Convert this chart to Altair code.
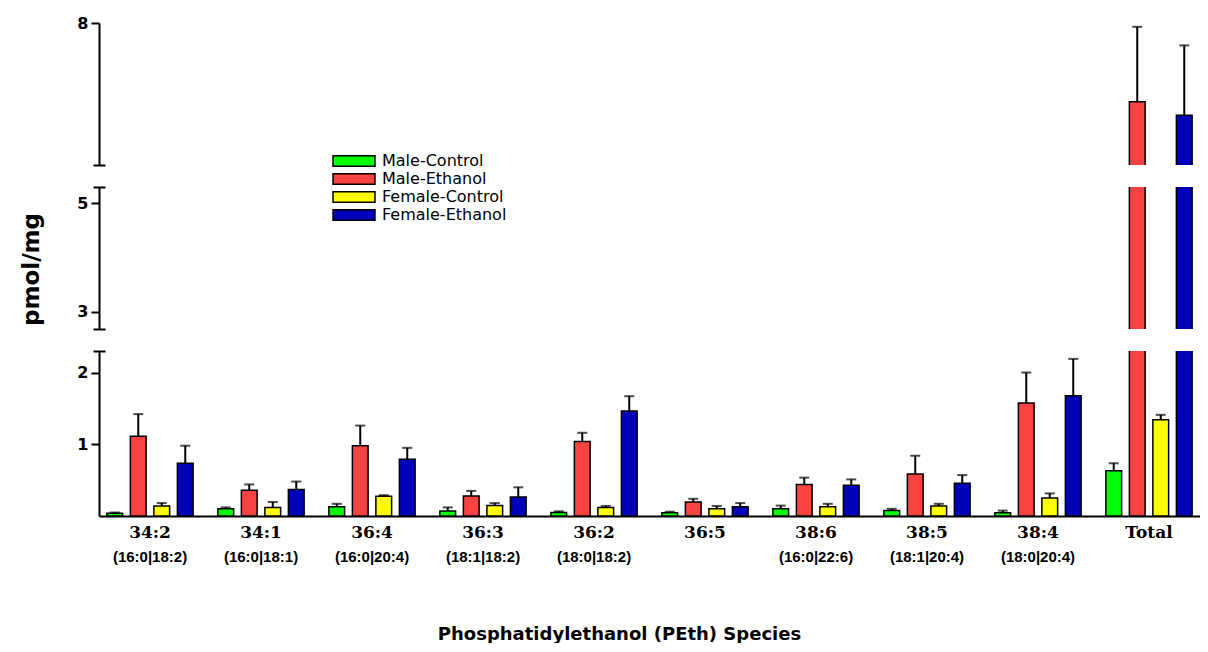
import altair as alt
import pandas as pd

species = ["34:2", "34:1", "36:4", "36:3", "36:2", "36:5", "38:6", "38:5", "38:4", "Total"]
sub_labels = ["(16:0|18:2)", "(16:0|18:1)", "(16:0|20:4)", "(18:1|18:2)", "(18:0|18:2)", "",
              "(16:0|22:6)", "(18:1|20:4)", "(18:0|20:4)", ""]
groups = ["Male-Control", "Male-Ethanol", "Female-Control", "Female-Ethanol"]
colors = ["#00FF00", "#F94343", "#FFFF00", "#0000BB"]

male_control = [0.04, 0.10, 0.13, 0.07, 0.05, 0.047, 0.10, 0.075, 0.047, 0.63]
male_control_err = [0.01, 0.02, 0.04, 0.05, 0.015, 0.013, 0.045, 0.025, 0.028, 0.105]
male_ethanol = [1.11, 0.36, 0.98, 0.28, 1.04, 0.195, 0.44, 0.585, 1.575, 6.56]
male_ethanol_err = [0.31, 0.08, 0.28, 0.07, 0.12, 0.045, 0.095, 0.255, 0.425, 1.37]
female_control = [0.14, 0.12, 0.275, 0.145, 0.12, 0.10, 0.13, 0.14, 0.25, 1.34]
female_control_err = [0.04, 0.075, 0.015, 0.035, 0.02, 0.04, 0.04, 0.03, 0.065, 0.07]
female_ethanol = [0.735, 0.37, 0.79, 0.265, 1.465, 0.13, 0.43, 0.455, 1.675, 6.31]
female_ethanol_err = [0.245, 0.11, 0.16, 0.135, 0.205, 0.05, 0.08, 0.115, 0.515, 1.28]

means = [male_control, male_ethanol, female_control, female_ethanol]
errs = [male_control_err, male_ethanol_err, female_control_err, female_ethanol_err]

rows = []
for g, m, e in zip(groups, means, errs):
    for s, v, d in zip(species, m, e):
        rows.append({"species": s, "group": g, "mean": v, "hi": v + d})
df = pd.DataFrame(rows)

W = 1101
SANS = "DejaVu Sans"

sub_expr = ("[" + ",".join(f"'{s}'" for s in sub_labels) + "][indexof(["
            + ",".join(f"'{s}'" for s in species) + "], datum.value)]")

color_scale = alt.Scale(domain=groups, range=colors)
x_scale = alt.Scale(paddingInner=0.153, paddingOuter=0.036)
xo = alt.XOffset("group:N", sort=groups, scale=alt.Scale(paddingInner=0.33, paddingOuter=0.165))

legend = alt.Legend(orient="none", legendX=247, legendY=130, title=None, padding=0,
                    symbolType="M-4,-1L4,-1L4,1L-4,1Z", symbolSize=110,
                    symbolStrokeColor="black", symbolStrokeWidth=1.5, labelFont=SANS,
                    labelFontSize=16, labelColor="black", labelOffset=20, rowPadding=0)


def y_axis(values, title=None, titleY=None):
    kw = dict(values=values, format="d", grid=False, domainColor="black", domainWidth=2,
              tickColor="black", tickWidth=2, tickSize=8, labelFont=SANS, labelFontWeight="bold",
              labelFontSize=16, labelColor="black", labelPadding=3, labelOverlap=False, orient="left")
    if title:
        kw.update(title=title, titleFont=SANS, titleFontWeight="bold", titleFontSize=23,
                  titleColor="black", titlePadding=33, titleY=titleY)
    else:
        kw.update(title=None)
    return alt.Axis(**kw)


def cap_axis(values):
    # short marks that cross the axis line at the ends of each broken segment
    return alt.Axis(values=values, labels=False, domain=False, grid=False, tickColor="black",
                    tickWidth=2, tickSize=12, offset=-6, title=None, orient="left")


def panel(domain, height, yvals, capvals, bottom=False, title=None, titleY=None):
    ysc = alt.Scale(domain=domain, nice=False, zero=False)
    yax = y_axis(yvals, title, titleY)
    if bottom:
        xax = alt.Axis(title="Phosphatidylethanol (PEth) Species", labelAngle=0, labelFont="DejaVu Serif",
                       labelFontWeight="bold", labelFontSize=17, labelColor="black", labelPadding=8,
                       ticks=False, domainColor="black", domainWidth=2, titleFont=SANS,
                       titleFontWeight="bold", titleFontSize=18, titleColor="black", titleX=520,
                       titleY=118, titleBaseline="middle", titleAlign="center", orient="bottom")
        xax2 = alt.Axis(title=None, labelAngle=0, labelExpr=sub_expr, labelFont="Liberation Sans",
                        labelFontWeight="bold", labelFontSize=15, labelColor="black", labelPadding=33,
                        ticks=False, domain=False, orient="bottom")
    else:
        xax = None
        xax2 = None
    bars = alt.Chart(df).mark_bar(clip=True, stroke="black", strokeWidth=1.5).encode(
        x=alt.X("species:N", sort=species, scale=x_scale, axis=xax),
        xOffset=xo,
        y=alt.Y("mean:Q", scale=ysc, axis=yax),
        y2=alt.datum(0),
        color=alt.Color("group:N", sort=groups, scale=color_scale, legend=legend),
    )
    rules = alt.Chart(df).mark_rule(clip=True, color="black", strokeWidth=2).encode(
        x=alt.X("species:N", sort=species, scale=x_scale, axis=None),
        xOffset=xo,
        y=alt.Y("mean:Q", scale=ysc, axis=None),
        y2="hi:Q",
    )
    caps = alt.Chart(df).mark_tick(clip=True, color="black", size=10, thickness=2).encode(
        x=alt.X("species:N", sort=species, scale=x_scale, axis=xax2),
        xOffset=xo,
        y=alt.Y("hi:Q", scale=ysc, axis=cap_axis(capvals)),
    )
    ch = alt.layer(bars, rules, caps).properties(width=W, height=height)
    if bottom:
        ch = ch.resolve_axis(x="independent", y="independent")
    else:
        ch = ch.resolve_axis(y="independent")
    return ch


top = panel([5.4, 8], 142, [8], [5.4])
mid = panel([2.68, 5.3], 142, [3, 5], [2.68, 5.3], title="pmol/mg", titleY=82)
bot = panel([0, 2.3], 165, [1, 2], [2.3], bottom=True)

chart = alt.vconcat(top, mid, bot, spacing=20).properties(
    padding={"left": 12, "top": 7, "right": 0, "bottom": 0}
).configure_view(stroke=None)

chart.save("out.html", embed_options={"renderer": "svg", "actions": False})
